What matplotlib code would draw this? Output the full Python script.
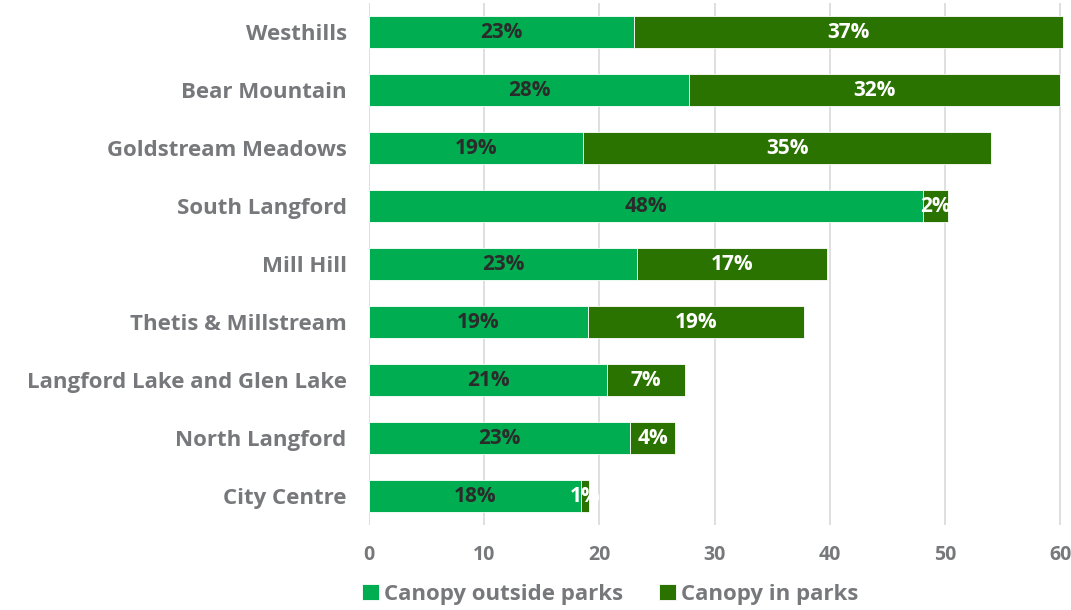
import numpy as np
import matplotlib.pyplot as plt

plt.rcParams['font.family'] = ['Open Sans', 'DejaVu Sans']

# neighbourhoods, top to bottom
areas = ['Westhills', 'Bear Mountain', 'Goldstream Meadows', 'South Langford',
         'Mill Hill', 'Thetis & Millstream', 'Langford Lake and Glen Lake',
         'North Langford', 'City Centre']
outside_parks = [23.0, 27.8, 18.6, 48.1, 23.3, 19.0, 20.7, 22.7, 18.4]
in_parks = [37.2, 32.2, 35.4, 2.2, 16.5, 18.8, 6.7, 3.9, 0.7]
outside_labels = ['23%', '28%', '19%', '48%', '23%', '19%', '21%', '23%', '18%']
in_labels = ['37%', '32%', '35%', '2%', '17%', '19%', '7%', '4%', '1%']

light_green = '#00ad50'
dark_green = '#2a7300'
grey = '#77787b'

fig = plt.figure(figsize=(10.71, 6.10), dpi=100)
ax = fig.add_axes([0.3445, 0.139, 0.6508, 0.856])

y = np.arange(len(areas))
b1 = ax.barh(y, outside_parks, height=0.55, color=light_green, label='Canopy outside parks',
             edgecolor='white', linewidth=0.6)
b2 = ax.barh(y, in_parks, left=outside_parks, height=0.55, color=dark_green,
             label='Canopy in parks', edgecolor='white', linewidth=0.6)

ax.bar_label(b1, labels=outside_labels, label_type='center', color='#2b2b2b',
             fontsize=15, fontweight='bold')
ax.bar_label(b2, labels=in_labels, label_type='center', color='white',
             fontsize=15, fontweight='bold')

ax.set_yticks(y)
ax.set_yticklabels(areas, fontsize=16, fontweight='bold', color=grey)
ax.set_ylim(len(areas) - 0.5, -0.5)
ax.set_xlim(0, 60.5)
ax.set_xticks([0, 10, 20, 30, 40, 50, 60])
ax.tick_params(axis='x', labelsize=14, labelcolor=grey, length=0, pad=14)
ax.tick_params(axis='y', length=0, pad=16)
for lbl in ax.get_xticklabels():
    lbl.set_fontweight('bold')

ax.grid(axis='x', color='#d9d9d9', linewidth=1.2)
ax.set_axisbelow(True)
for s in ax.spines.values():
    s.set_visible(False)

leg = fig.legend(handles=[b1, b2], loc='center', bbox_to_anchor=(0.57, 0.026), ncol=2,
                 frameon=False, fontsize=16, handlelength=0.75, handleheight=0.75,
                 handletextpad=0.25, columnspacing=1.6)
for t in leg.get_texts():
    t.set_color(grey)
    t.set_fontweight('bold')

fig.savefig('out.png', dpi=100)
